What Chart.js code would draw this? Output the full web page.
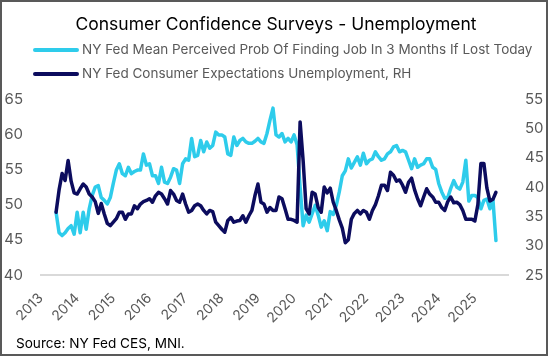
<!DOCTYPE html>
<html><head><meta charset="utf-8">
<script src="https://cdn.jsdelivr.net/npm/chart.js@4.4.1/dist/chart.umd.min.js"></script>
<style>html,body{margin:0;padding:0;background:#fff;}canvas{display:block;}</style>
</head><body>
<canvas id="c" width="548" height="356"></canvas>
<script>
const titleText = 'Consumer Confidence Surveys - Unemployment';
const sourceText = 'Source: NY Fed CES, MNI.';
const seriesLabels = [
  'NY Fed Mean Perceived Prob Of Finding Job In 3 Months If Lost Today',
  'NY Fed Consumer Expectations Unemployment, RH'
];
const startMonth = '2013-06';
const yearTicks = ['2013','2014','2015','2016','2017','2018','2019','2020','2021','2022','2023','2024','2025'];
const leftTicks = [40, 45, 50, 55, 60, 65];
const rightTicks = [25, 30, 35, 40, 45, 50, 55];

const jobFinding = [
  48.9, 46.0, 45.6, 46.0, 46.6, 47.0, 45.8, 48.9, 46.0, 48.9, 46.5, 49.4,
  51.3, 52.5, 52.7, 51.0, 50.6, 50.1, 51.0, 53.0, 54.9, 55.8, 54.4, 54.1,
  55.3, 54.4, 54.7, 54.9, 54.9, 57.2, 55.6, 55.8, 54.1, 54.1, 53.0, 55.3,
  53.2, 53.0, 53.9, 55.1, 54.9, 53.0, 55.8, 56.5, 56.3, 59.4, 56.8, 57.0,
  59.1, 57.5, 58.9, 58.0, 58.4, 60.3, 59.9, 59.9, 59.6, 57.2, 57.0, 59.6,
  58.4, 59.1, 59.4, 58.9, 58.7, 58.7, 59.0, 59.4, 58.9, 58.7, 60.1, 62.0,
  63.7, 59.9, 59.6, 60.1, 58.9, 59.4, 58.9, 59.9, 58.5, 52.5, 47.0, 48.5,
  47.5, 48.7, 49.9, 48.5, 46.8, 47.7, 46.3, 49.0, 48.6, 49.9, 51.8, 54.1,
  54.8, 56.5, 55.2, 56.0, 56.8, 55.6, 57.3, 55.8, 56.3, 56.5, 57.5, 56.8,
  56.3, 56.5, 57.2, 57.5, 58.2, 58.4, 57.5, 57.7, 57.5, 56.3, 55.1, 56.5,
  55.3, 55.6, 55.8, 56.5, 56.5, 55.3, 55.0, 53.0, 51.8, 50.9, 51.0, 52.3,
  53.4, 52.5, 52.2, 53.2, 56.3, 50.5, 51.3, 51.3, 51.0, 49.4, 50.6, 50.8,
  49.4, 50.7, 44.9
];
const unempExpectations = [
  35.7, 39.5, 42.3, 41.1, 44.5, 41.0, 39.0, 38.8, 39.7, 40.5, 40.0, 38.8,
  38.3, 37.5, 35.5, 37.2, 35.4, 33.8, 33.4, 34.0, 34.6, 35.7, 35.7, 34.5,
  35.4, 35.4, 36.8, 36.3, 37.1, 37.5, 37.7, 38.0, 37.4, 38.5, 39.1, 38.8,
  38.0, 37.1, 39.4, 38.8, 37.7, 37.4, 38.8, 37.1, 35.7, 36.0, 36.8, 37.1,
  36.8, 36.0, 35.4, 36.0, 35.8, 34.0, 33.4, 32.8, 32.3, 34.3, 34.8, 34.0,
  34.2, 34.3, 35.1, 34.0, 35.1, 36.0, 38.5, 40.5, 37.4, 37.1, 35.7, 36.5,
  36.0, 36.0, 38.3, 38.0, 36.3, 34.5, 34.5, 34.3, 34.0, 51.1, 44.5, 36.3,
  35.4, 39.1, 38.8, 36.5, 35.7, 40.0, 39.0, 39.8, 37.4, 36.0, 34.4, 33.0,
  30.5, 31.0, 34.5, 35.5, 36.0, 35.4, 36.0, 35.7, 34.5, 36.0, 37.0, 38.5,
  40.3, 40.3, 39.4, 42.5, 42.0, 41.0, 41.2, 40.3, 39.1, 40.8, 41.5, 39.5,
  38.0, 36.8, 38.3, 39.7, 38.8, 38.3, 37.4, 37.4, 36.5, 36.0, 37.5, 38.3,
  37.3, 37.4, 37.0, 36.0, 34.5, 34.5, 34.5, 34.2, 37.0, 44.0, 44.0, 39.8,
  37.6, 37.9, 39.1
];

const LIGHT = '#2ECCEB';
const DARK = '#0C0C5E';
const FONT = 'Inter';

const [sy, sm] = startMonth.split('-').map(Number);
const firstIndex = (sy - Number(yearTicks[0])) * 12 + (sm - 1);
const monthIndex = i => firstIndex + i;

const frameAndText = {
  id: 'frameAndText',
  afterDraw(chart) {
    const ctx = chart.ctx;
    ctx.save();
    chart.data.datasets.forEach((ds, i) => {
      const y = 50 + i * 24;
      ctx.strokeStyle = ds.borderColor;
      ctx.lineWidth = 4;
      ctx.lineCap = 'round';
      ctx.beginPath(); ctx.moveTo(35, y); ctx.lineTo(77, y); ctx.stroke();
      ctx.fillStyle = '#595959';
      ctx.font = '13.5px "' + FONT + '"';
      ctx.textBaseline = 'middle';
      ctx.textAlign = 'left';
      ctx.fillText(ds.label, 82, y);
    });
    ctx.fillStyle = '#000';
    ctx.font = '13.6px "' + FONT + '"';
    ctx.fillText(sourceText, 16, 344);
    ctx.strokeStyle = '#595959';
    ctx.lineWidth = 2;
    ctx.strokeRect(1, 1, chart.width - 2, chart.height - 2);
    ctx.restore();
  }
};

new Chart(document.getElementById('c'), {
  type: 'line',
  data: {
    datasets: [
      { label: seriesLabels[0], data: jobFinding.map((v, i) => ({ x: monthIndex(i), y: v })),
        borderColor: LIGHT, backgroundColor: LIGHT, yAxisID: 'y', order: 1 },
      { label: seriesLabels[1], data: unempExpectations.map((v, i) => ({ x: monthIndex(i), y: v })),
        borderColor: DARK, backgroundColor: DARK, yAxisID: 'y1', order: 0 }
    ]
  },
  options: {
    responsive: false,
    animation: false,
    devicePixelRatio: 1,
    layout: { padding: { left: 4, right: 0, top: 0, bottom: 0 } },
    elements: {
      point: { radius: 0 },
      line: { borderWidth: 3.5, tension: 0, borderJoinStyle: 'round', borderCapStyle: 'round' }
    },
    plugins: {
      legend: { display: false },
      tooltip: { enabled: false },
      title: {
        display: true, text: titleText, color: '#000',
        font: { family: FONT, size: 17.5, weight: 'normal', lineHeight: 1 },
        padding: { top: 15.5, bottom: 66 }
      }
    },
    scales: {
      x: {
        type: 'linear', min: 0, max: 155,
        grid: { display: false, drawTicks: false },
        border: { display: true, color: '#d9d9d9', width: 2 },
        afterBuildTicks: s => { s.ticks = yearTicks.map((t, i) => ({ value: i * 12 })); },
        afterFit: s => { s.height = 81; },
        ticks: {
          autoSkip: false, minRotation: 45, maxRotation: 45, padding: 15,
          color: '#595959', font: { family: FONT, size: 14 },
          callback: v => yearTicks[Math.round(v / 12)]
        }
      },
      y: {
        position: 'left', min: leftTicks[0], max: leftTicks[leftTicks.length - 1],
        grid: { display: false, drawTicks: false }, border: { display: false },
        afterBuildTicks: s => { s.ticks = leftTicks.map(v => ({ value: v })); },
        afterFit: s => { s.width = 37; },
        ticks: { padding: 18, color: '#595959', font: { family: FONT, size: 15 } }
      },
      y1: {
        position: 'right', min: rightTicks[0], max: rightTicks[rightTicks.length - 1],
        grid: { display: false, drawTicks: false }, border: { display: false },
        afterBuildTicks: s => { s.ticks = rightTicks.map(v => ({ value: v })); },
        afterFit: s => { s.width = 40; },
        ticks: { padding: 17, color: '#595959', font: { family: FONT, size: 15 } }
      }
    }
  },
  plugins: [frameAndText]
});
</script>
</body></html>
